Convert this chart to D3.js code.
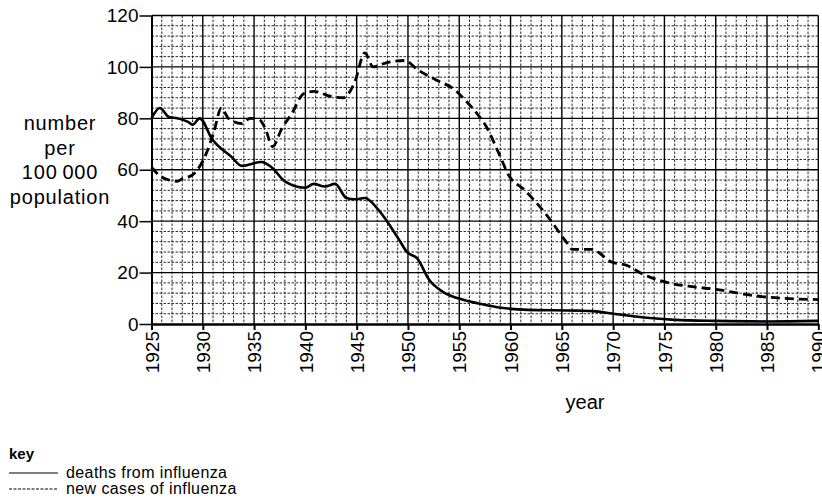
<!DOCTYPE html>
<html>
<head>
<meta charset="utf-8">
<script src="https://cdn.jsdelivr.net/npm/d3@7/dist/d3.min.js"></script>
<style>
  body { margin: 0; background: #fff; }
  svg { display: block; font-family: "Liberation Sans", Arial, sans-serif; }
</style>
</head>
<body>
<div id="chart"></div>
<script>
// data (year, number per 100 000)
const deathYears = [1925, 1925.8, 1926.7, 1927.5, 1928.6, 1929, 1929.7, 1930.9, 1932.8, 1933.8,
  1935.7, 1936.7, 1938, 1940, 1940.8, 1941.9, 1942.9, 1944, 1944.8, 1945.8, 1947.1, 1949.1,
  1949.9, 1950.9, 1952.1, 1953.4, 1955.3, 1956.9, 1959.1, 1961.7, 1966.6, 1968, 1970, 1973,
  1976, 1980, 1985, 1990];
const deathValues = [80, 84, 80.5, 80, 78.5, 77.5, 80, 72, 65, 61.5,
  63, 61, 55.5, 53, 54.5, 53.5, 54.5, 49, 48.5, 49, 44.5, 33,
  28, 25.5, 17, 12.5, 9.5, 8, 6.3, 5.5, 5.2, 5, 4, 2.5,
  1.6, 1.2, 1, 1.2];

const caseYears = [1925, 1925.7, 1926.7, 1927.5, 1928, 1929, 1930.3, 1931.1, 1931.8, 1932.5,
  1933.8, 1934.6, 1935.5, 1936.1, 1936.8, 1937.7, 1938.7, 1939.8, 1940.8, 1942.5, 1943.7,
  1944.8, 1945.8, 1946.6, 1947.8, 1949.7, 1950.9, 1952.7, 1954.6, 1955.6, 1956.8, 1957.6,
  1958.9, 1959.8, 1961.4, 1963.4, 1965.6, 1966, 1967.9, 1969.9, 1971.2, 1973.1, 1975.4,
  1977.7, 1980, 1982.9, 1984.9, 1990];
const caseValues = [61, 58, 56, 55.5, 56.5, 58, 66, 75, 84, 80,
  78, 80, 79.5, 76, 69, 76, 82, 89.5, 90.5, 88.5, 88,
  94, 105.5, 100, 101.5, 102.5, 99, 95, 91, 87, 81.5, 77,
  66, 58, 52, 43, 31, 29, 29, 24, 23, 19, 16,
  14.5, 13.5, 11.5, 10.5, 9.5];

const yearTicks = d3.range(1925, 1991, 5);
const valueTicks = [0, 20, 40, 60, 80, 100, 120];
const yTitle = ["number", "per", "100\u2009000", "population"];
const keyLabels = ["deaths from influenza", "new cases of influenza"];

const W = 822, H = 499;
const svg = d3.select("#chart").append("svg")
    .attr("width", W)
    .attr("height", H);

const x = d3.scaleLinear().domain([1925, 1990]).range([151.5, 818.3]);
const y = d3.scaleLinear().domain([0, 120]).range([324, 15.5]);

// graph paper grid
const grid = svg.append("g");
grid.selectAll(".vminor")
    .data(d3.range(1926, 1991).filter(v => v % 5 != 0))
    .join("line")
    .attr("x1", d => x(d)).attr("x2", d => x(d))
    .attr("y1", y(120)).attr("y2", y(0))
    .attr("stroke", "#111").attr("stroke-width", 0.9)
    .attr("stroke-dasharray", "2.5,1.5");
grid.selectAll(".hminor")
    .data(d3.range(4, 121, 4).filter(v => v % 20 != 0))
    .join("line")
    .attr("x1", x(1925)).attr("x2", x(1990))
    .attr("y1", d => y(d)).attr("y2", d => y(d))
    .attr("stroke", "#111").attr("stroke-width", 0.9)
    .attr("stroke-dasharray", "2.5,1.5");
grid.selectAll(".vmajor")
    .data(yearTicks.slice(1))
    .join("line")
    .attr("x1", d => x(d)).attr("x2", d => x(d))
    .attr("y1", y(120)).attr("y2", y(0))
    .attr("stroke", "#000").attr("stroke-width", 1.4);
grid.selectAll(".hmajor")
    .data(valueTicks.slice(1))
    .join("line")
    .attr("x1", x(1925)).attr("x2", x(1990))
    .attr("y1", d => y(d)).attr("y2", d => y(d))
    .attr("stroke", "#000").attr("stroke-width", 1.4);

// axes
const xAxis = svg.append("g")
    .attr("transform", `translate(0,${y(0)})`)
    .call(d3.axisBottom(x).tickValues(yearTicks).tickFormat(d3.format("d"))
        .tickSize(6).tickSizeOuter(0));
xAxis.select(".domain").attr("stroke-width", 2.5);
xAxis.selectAll(".tick line").attr("stroke-width", 2);
xAxis.selectAll("text")
    .attr("font-size", 19)
    .attr("fill", "#000")
    .attr("text-anchor", "end")
    .attr("transform", "rotate(-90)")
    .attr("x", -7)
    .attr("y", 0)
    .attr("dy", "0.35em");

const yAxis = svg.append("g")
    .attr("transform", `translate(${x(1925)},0)`)
    .call(d3.axisLeft(y).tickValues(valueTicks).tickSize(12).tickPadding(1).tickSizeOuter(0));
yAxis.select(".domain").attr("stroke-width", 2);
yAxis.selectAll(".tick line").attr("stroke-width", 1.5);
yAxis.selectAll("text").attr("font-size", 19).attr("fill", "#000");

// data lines
const line = d3.line()
    .x(d => x(d[0]))
    .y(d => y(d[1]))
    .curve(d3.curveMonotoneX);

svg.append("path")
    .datum(d3.zip(deathYears, deathValues))
    .attr("fill", "none")
    .attr("stroke", "#000")
    .attr("stroke-width", 2.6)
    .attr("d", line);

svg.append("path")
    .datum(d3.zip(caseYears, caseValues))
    .attr("fill", "none")
    .attr("stroke", "#000")
    .attr("stroke-width", 2.8)
    .attr("stroke-dasharray", "9,5")
    .attr("d", line);

// axis titles
svg.append("g").selectAll("text")
    .data(yTitle)
    .join("text")
    .attr("x", 60)
    .attr("y", (d, i) => 130 + i * 24.5)
    .attr("text-anchor", "middle")
    .attr("font-size", 20)
    .attr("letter-spacing", 0.8)
    .text(d => d);

svg.append("text")
    .attr("x", 585)
    .attr("y", 409)
    .attr("text-anchor", "middle")
    .attr("font-size", 20)
    .text("year");

// key
const key = svg.append("g").attr("transform", "translate(9,0)");
key.append("text")
    .attr("x", 0).attr("y", 459)
    .attr("font-size", 15)
    .attr("font-weight", "bold")
    .text("key");
const rows = key.selectAll(".row")
    .data(keyLabels)
    .join("g")
    .attr("transform", (d, i) => `translate(0,${473 + i * 16})`);
rows.append("line")
    .attr("x1", 0).attr("x2", 49)
    .attr("stroke", "#000")
    .attr("stroke-width", 1.2)
    .attr("stroke-dasharray", (d, i) => i ? "3,1.5" : null);
rows.append("text")
    .attr("x", 57).attr("y", 5)
    .attr("font-size", 16)
    .attr("letter-spacing", 0.4)
    .text(d => d);
</script>
</body>
</html>
